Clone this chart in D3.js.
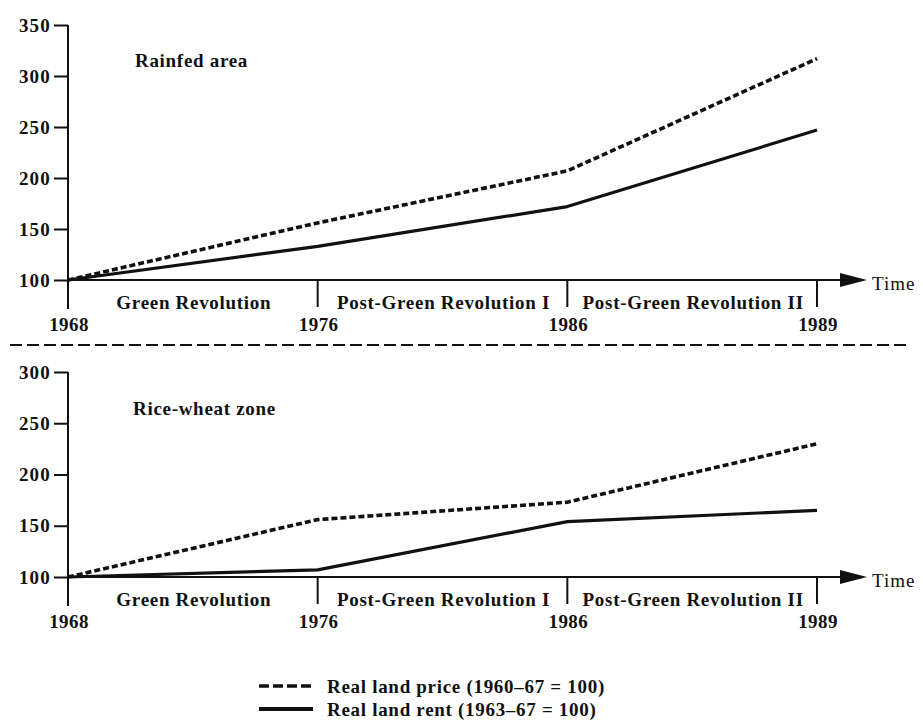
<!DOCTYPE html>
<html>
<head>
<meta charset="utf-8">
<script src="https://cdn.jsdelivr.net/npm/d3@7/dist/d3.min.js"></script>
<style>
  html, body { margin: 0; padding: 0; background: #fff; }
  svg text { font-family: "Liberation Serif", "Times New Roman", serif; fill: #111; }
</style>
</head>
<body>
<svg id="chart" width="923" height="727"></svg>
<script>
// ---- Data ----
const years = ["1968", "1976", "1986", "1989"];
const periods = ["Green Revolution", "Post-Green Revolution I", "Post-Green Revolution II"];
const rainfedPrice = [100, 156, 207, 317];
const rainfedRent = [100, 133, 172, 247];
const riceWheatPrice = [100, 156, 173, 230];
const riceWheatRent = [100, 107, 154, 165];
const rainfedTicks = [100, 150, 200, 250, 300, 350];
const riceWheatTicks = [100, 150, 200, 250, 300];
const legendLabels = ["Real land price (1960\u201367 = 100)", "Real land rent (1963\u201367 = 100)"];

const ink = "#111";
const svg = d3.select("#chart");

const x = d3.scalePoint().domain(years).range([68, 817]);

const panels = [
  { title: "Rainfed area", titleX: 135, titleY: 60, domain: [100, 350], range: [280, 25], ticks: rainfedTicks,
    price: rainfedPrice, rent: rainfedRent },
  { title: "Rice-wheat zone", titleX: 133, titleY: 408, domain: [100, 300], range: [577, 372], ticks: riceWheatTicks,
    price: riceWheatPrice, rent: riceWheatRent }
];

const fontBold = { "font-size": "19px", "font-weight": "bold", "letter-spacing": "0.7px" };
function applyFont(sel, f) { Object.entries(f).forEach(([k, v]) => sel.style(k, v)); return sel; }

panels.forEach(p => {
  const y = d3.scaleLinear().domain(p.domain).range(p.range);
  const g = svg.append("g");
  const x0 = y(p.domain[0]);

  // y axis ticks
  const ax = g.append("g").attr("transform", `translate(${x(years[0])},0)`)
    .call(d3.axisLeft(y).tickValues(p.ticks).tickSize(14).tickPadding(3).tickFormat(d3.format("d")));
  ax.select(".domain").remove();
  ax.selectAll(".tick line").attr("stroke", ink).attr("stroke-width", 2);
  applyFont(ax.selectAll(".tick text"), { "font-size": "19px", "font-weight": "bold", "letter-spacing": "1.2px" })
    .attr("fill", ink);

  // y axis line extended below x axis
  g.append("line").attr("x1", x(years[0])).attr("x2", x(years[0]))
    .attr("y1", y(p.domain[1])).attr("y2", x0 + 29)
    .attr("stroke", ink).attr("stroke-width", 2);

  // x axis line with arrow
  const xEnd = 842;
  g.append("line").attr("x1", x(years[0])).attr("x2", xEnd).attr("y1", x0).attr("y2", x0)
    .attr("stroke", ink).attr("stroke-width", 2);
  g.append("path").attr("d", `M${xEnd - 2},${x0 - 7}L867,${x0}L${xEnd - 2},${x0 + 7}Z`).attr("fill", ink);
  g.append("text").attr("x", 872).attr("y", x0 + 3).attr("dominant-baseline", "central")
    .style("font-size", "19px").style("letter-spacing", "1px").text("Time");

  // period boundary ticks
  g.selectAll(".bt").data(years.slice(1)).enter().append("line")
    .attr("x1", d => x(d)).attr("x2", d => x(d)).attr("y1", x0).attr("y2", x0 + 27)
    .attr("stroke", ink).attr("stroke-width", 2);

  // period labels
  applyFont(g.selectAll(".pl").data(periods).enter().append("text")
    .attr("x", (d, i) => (x(years[i]) + x(years[i + 1])) / 2 + 1)
    .attr("y", x0 + 22).attr("dominant-baseline", "central").attr("text-anchor", "middle")
    .text(d => d), fontBold);

  // year labels
  applyFont(g.selectAll(".yl").data(years).enter().append("text")
    .attr("x", d => x(d) + 1).attr("y", x0 + 44).attr("dominant-baseline", "central").attr("text-anchor", "middle")
    .text(d => d), { "font-size": "19px", "font-weight": "bold", "letter-spacing": "0.4px" });

  // panel title
  applyFont(g.append("text").attr("x", p.titleX).attr("y", p.titleY).attr("dominant-baseline", "central")
    .text(p.title), fontBold);

  // series
  const line = d3.line().x((d, i) => x(years[i])).y(d => y(d));
  g.append("path").datum(p.rent).attr("d", line).attr("fill", "none").attr("stroke", ink)
    .attr("stroke-width", 3.2).attr("stroke-linejoin", "round");
  g.append("path").datum(p.price).attr("d", line).attr("fill", "none").attr("stroke", ink)
    .attr("stroke-width", 3.6).attr("stroke-dasharray", "6,3");
});

// separator dashed line
svg.append("line").attr("x1", 10).attr("x2", 909).attr("y1", 345).attr("y2", 345)
  .attr("stroke", ink).attr("stroke-width", 2).attr("stroke-dasharray", "12,5");

// legend
const lg = svg.append("g");
const legendY = [686, 709];
legendLabels.forEach((lab, i) => {
  lg.append("line").attr("x1", 259).attr("x2", 313).attr("y1", legendY[i]).attr("y2", legendY[i])
    .attr("stroke", ink).attr("stroke-width", i === 0 ? 3.6 : 4)
    .attr("stroke-dasharray", i === 0 ? "10,4" : null);
  applyFont(lg.append("text").attr("x", 327).attr("y", legendY[i]).attr("dominant-baseline", "central")
    .text(lab), fontBold);
});
</script>
</body>
</html>
